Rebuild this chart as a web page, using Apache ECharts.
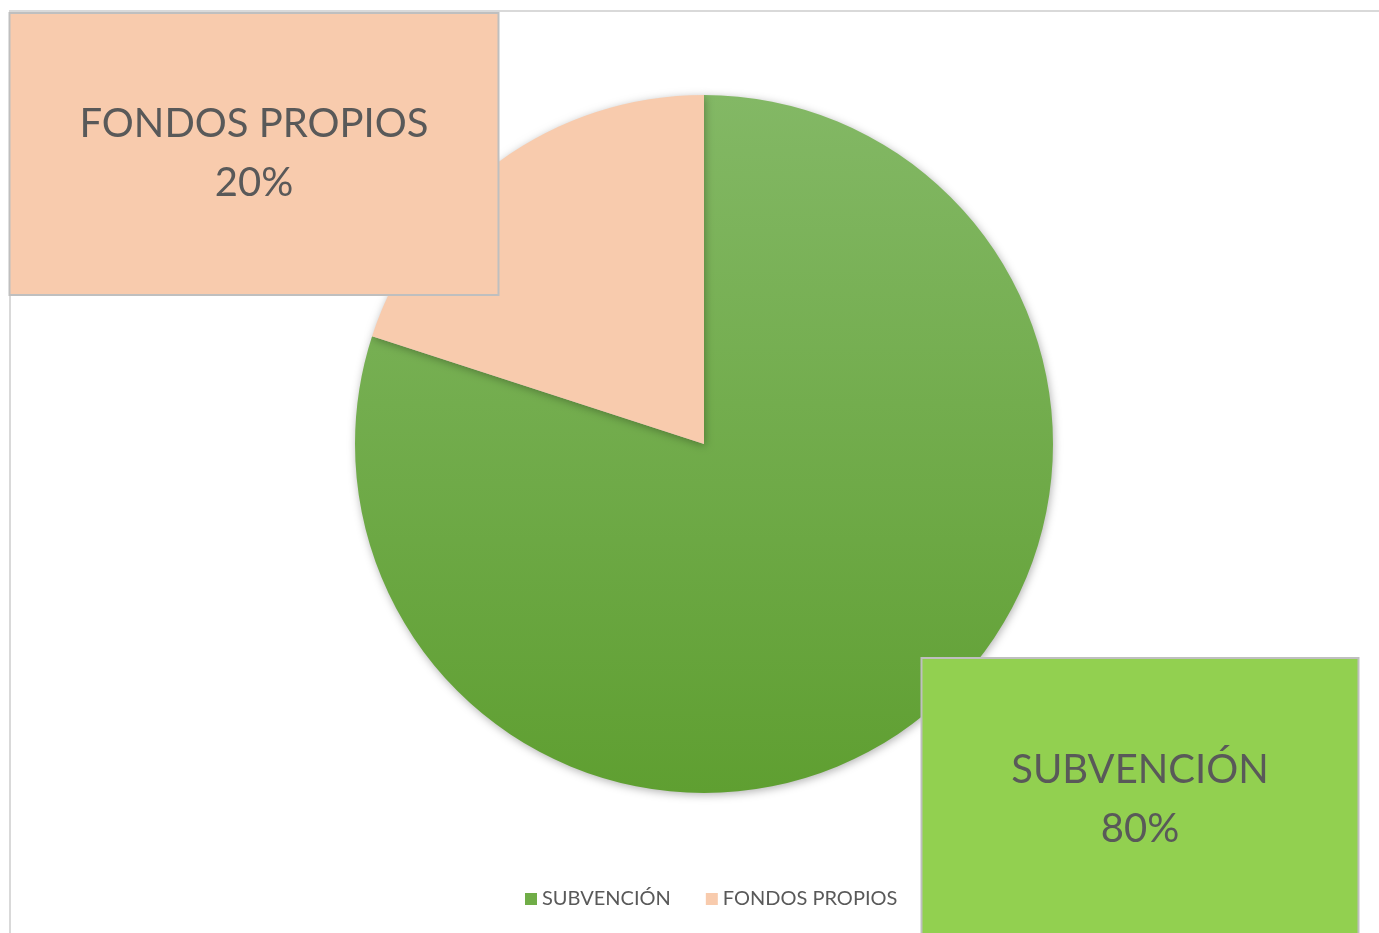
<!DOCTYPE html>
<html>
<head>
<meta charset="utf-8">
<style>
  html, body { margin: 0; padding: 0; background: #fff; }
  #main { width: 1379px; height: 933px; }
</style>
<script src="https://cdn.jsdelivr.net/npm/echarts@6/dist/echarts.min.js"></script>
</head>
<body>
<div id="main"></div>
<script>
const categories = ['SUBVENCIÓN', 'FONDOS PROPIOS'];
const values = [80, 20];

// slice colours, label box colours
const sliceColors = [
  new echarts.graphic.LinearGradient(0, 0, 0, 1, [
    { offset: 0, color: '#83b865' },
    { offset: 1, color: '#5f9f31' }
  ]),
  '#f8cbad'
];
const boxColors = ['#92d050', '#f8cbad'];
// label boxes centres (px)
const boxCenters = [[1140, 800], [254, 154]];
const boxSizes = [[435, 282], [487, 280]];

const chart = echarts.init(document.getElementById('main'), null, { renderer: 'canvas' });

const data = categories.map((name, i) => ({
  name: name,
  value: values[i],
  itemStyle: { color: sliceColors[i] },
  label: {
    backgroundColor: boxColors[i],
    width: boxSizes[i][0],
    padding: [(boxSizes[i][1] - 118) / 2, 0]
  }
}));

const option = {
  backgroundColor: '#ffffff',
  textStyle: { fontFamily: 'Lato' },
  graphic: [{
    type: 'rect',
    z: -10,
    shape: { x: 10, y: 11, width: 1420, height: 980 },
    style: { fill: null, stroke: '#d9d9d9', lineWidth: 2 }
  }],
  legend: {
    left: 520,
    top: 884,
    itemWidth: 12,
    itemHeight: 12,
    itemGap: 35,
    icon: 'rect',
    data: [
      { name: categories[0], itemStyle: { color: '#70ad47' } },
      { name: categories[1], itemStyle: { color: '#f8cbad' } }
    ],
    textStyle: { fontSize: 20, color: '#595959', fontFamily: 'Lato' }
  },
  series: [{
    type: 'pie',
    center: [704, 444],
    radius: [0, 349],
    startAngle: 90,
    clockwise: true,
    avoidLabelOverlap: false,
    itemStyle: {
      shadowBlur: 8,
      shadowColor: 'rgba(0,0,0,0.3)',
      shadowOffsetX: 1,
      shadowOffsetY: 2
    },
    label: {
      show: true,
      position: 'outside',
      formatter: p => p.name + '\n' + Math.round(p.percent) + '%',
      fontSize: 40,
      lineHeight: 59,
      color: '#595959',
      fontFamily: 'Lato',
      align: 'center',
      borderColor: '#bfbfbf',
      borderWidth: 2
    },
    labelLine: { show: false },
    labelLayout: function (params) {
      const c = boxCenters[params.dataIndex];
      return { x: c[0], y: c[1], align: 'center', verticalAlign: 'middle', hideOverlap: false };
    },
    data: data
  }]
};

chart.setOption(option);
</script>
</body>
</html>
